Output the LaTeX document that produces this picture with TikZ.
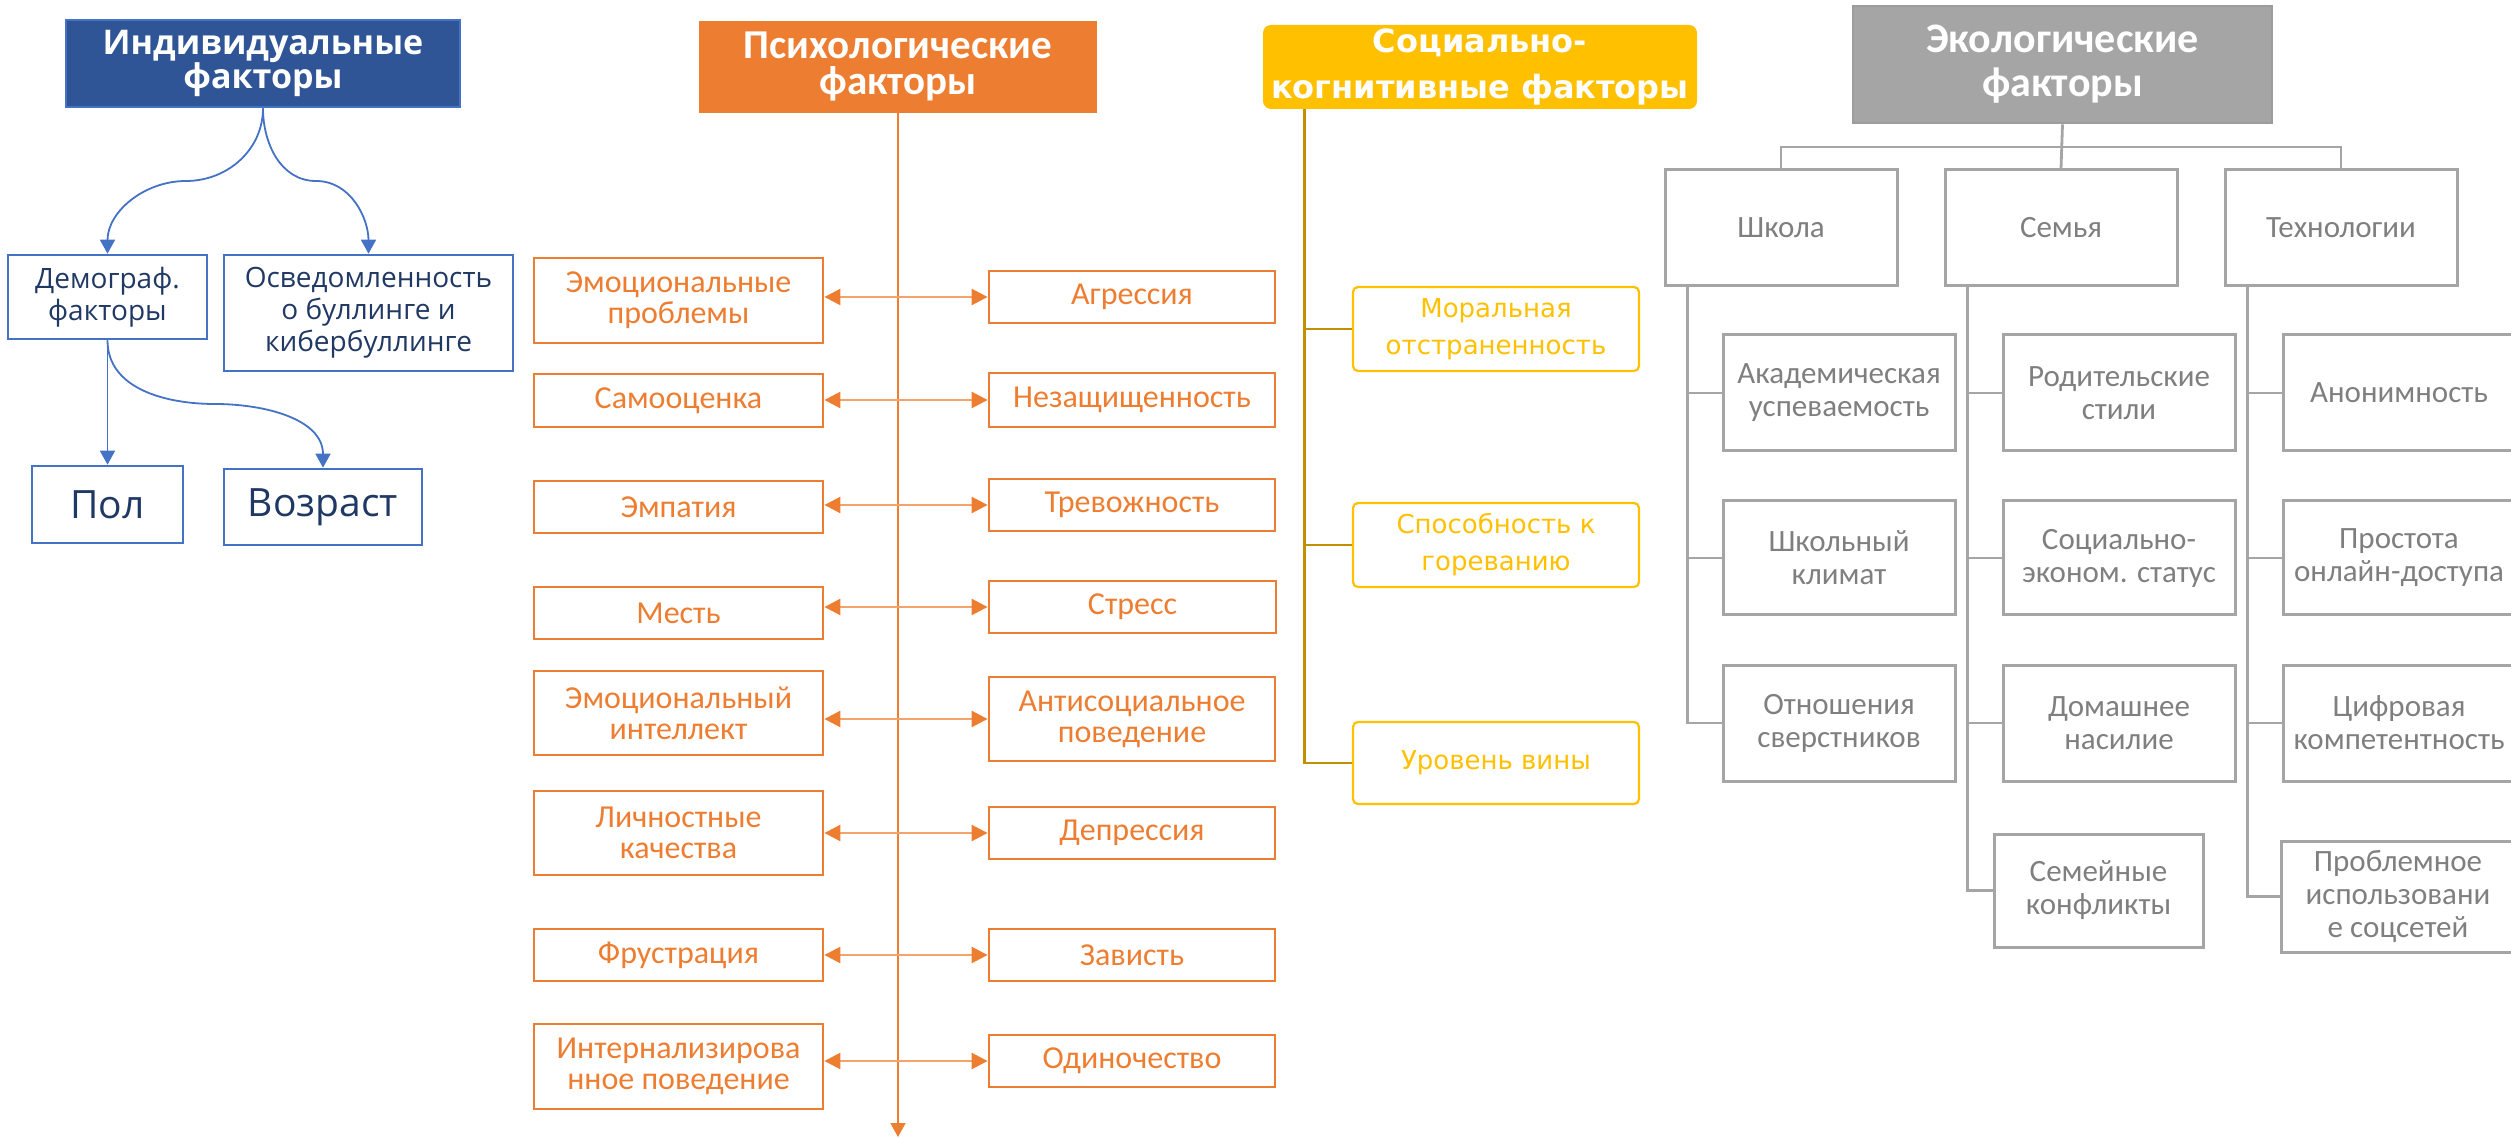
\documentclass[tikz,border=0pt]{standalone}
\usepackage{fontspec}
\newfontfamily\indf{Open Sans}
\newfontfamily\psyf{Carlito}
\newfontfamily\socf{DejaVu Sans}
\usetikzlibrary{arrows.meta}
\definecolor{indblue}{HTML}{2F5597}
\definecolor{indborder}{HTML}{4472C4}
\definecolor{indtext}{HTML}{203864}
\definecolor{psyor}{HTML}{ED7D31}
\definecolor{psylight}{HTML}{F4A46A}
\definecolor{socy}{HTML}{FFC000}
\definecolor{socdark}{HTML}{BF9000}
\definecolor{ecog}{HTML}{A5A5A5}
\definecolor{ecohd}{HTML}{9C9C9C}
\definecolor{ecotext}{HTML}{7F7F7F}
\newcommand{\bxnode}[7]{\node[#6, minimum width={(#4-#2)*0.5pt}, minimum height={(#5-#3)*0.5pt}] (#1) at ({(#2+#4)/2},{(#3+#5)/2}) {#7};}
\begin{document}
\begin{tikzpicture}[x=0.5pt,y=-0.5pt,
  every node/.style={inner sep=0pt, align=center},
  indhead/.style={fill=indblue, draw=indborder, line width=1.3pt, text=white, font=\indf\bfseries\fontsize{17}{17}\selectfont},
  indbox/.style={draw=indborder, line width=1.3pt, text=indtext, font=\indf\fontsize{14}{16}\selectfont},
  indbig/.style={indbox, font=\indf\fontsize{19.5}{21}\selectfont},
  indarrow/.style={draw=indborder, line width=0.9pt, -{Triangle[length=7pt,width=7.5pt]}},
  psyhead/.style={fill=psyor, draw=psyor, line width=1pt, text=white, font=\psyf\bfseries\fontsize{20.5}{18}\selectfont},
  psybox/.style={draw=psyor, line width=1.4pt, text=psyor, font=\psyf\fontsize{16}{15.5}\selectfont},
  psyarrow/.style={draw=psylight, line width=1.3pt, {Triangle[length=8pt,width=8pt,fill=psyor,color=psyor]}-{Triangle[length=8pt,width=8pt,fill=psyor,color=psyor]}},
  psyspine/.style={draw=psyor, line width=0.8pt, -{Triangle[length=7pt,width=7.5pt]}},
  sochead/.style={fill=socy, rounded corners=4pt, text=white, font=\socf\bfseries\fontsize{16}{23}\selectfont},
  socbox/.style={draw=socy, line width=1.1pt, rounded corners=2.5pt, text=socy, font=\socf\fontsize{13}{18.5}\selectfont},
  socline/.style={draw=socdark, line width=1.4pt},
  ecohead/.style={fill=ecog, draw=ecohd, line width=1.3pt, text=white, font=\psyf\bfseries\fontsize{21}{22}\selectfont},
  ecobox/.style={draw=ecog, line width=1.5pt, text=ecotext, font=\psyf\fontsize{15.5}{16.5}\selectfont},
  ecoline/.style={draw=ecog, line width=1.4pt}
]
\useasboundingbox (0,0) rectangle (2511,1138);

% ---------- Individual factors ----------
\bxnode{ind}{66}{20}{460}{107}{indhead}{Индивидуальные\\факторы}
\bxnode{dem}{8}{255}{207}{339}{indbox}{Демограф.\\факторы}
\bxnode{osv}{224}{255}{513}{371}{indbox}{Осведомленность\\о буллинге и\\кибербуллинге}
\bxnode{pol}{32}{466}{183}{543}{indbig}{Пол}
\bxnode{voz}{224}{469}{422}{545}{indbig}{Возраст}
\coordinate (m1) at (186,181);
\coordinate (m2) at (316,181);
\coordinate (m3) at (215,404);
\draw[indarrow] (ind.south) to[out=-90,in=0] (m1) to[out=180,in=90] (dem.north);
\draw[indarrow] (ind.south) to[out=-90,in=180] (m2) to[out=0,in=90] (osv.north);
\draw[indarrow] (dem.south) -- (pol.north);
\draw[indarrow] (dem.south) to[out=-90,in=180] (m3) to[out=0,in=90] (voz.north);

% ---------- Psychological factors ----------
\bxnode{psy}{700}{22}{1096}{112}{psyhead}{Психологические\\факторы}
\coordinate (psyend) at (898,1137);
\draw[psyspine] (psy.south) -- (psyend);

\bxnode{L1}{534}{258}{823}{343}{psybox}{Эмоциональные\\проблемы}
\bxnode{R1}{989}{271}{1275}{323}{psybox}{Агрессия}
\bxnode{L2}{534}{374}{823}{427}{psybox}{Самооценка}
\bxnode{R2}{989}{373}{1275}{427}{psybox}{Незащищенность}
\bxnode{L3}{534}{481}{823}{533}{psybox}{Эмпатия}
\bxnode{R3}{989}{479}{1275}{531}{psybox}{Тревожность}
\bxnode{L4}{534}{587}{823}{639}{psybox}{Месть}
\bxnode{R4}{989}{581}{1276}{633}{psybox}{Стресс}
\bxnode{L5}{534}{671}{823}{755}{psybox}{Эмоциональный\\интеллект}
\bxnode{R5}{989}{677}{1275}{761}{psybox}{Антисоциальное\\поведение}
\bxnode{L6}{534}{791}{823}{875}{psybox}{Личностные\\качества}
\bxnode{R6}{989}{807}{1275}{859}{psybox}{Депрессия}
\bxnode{L7}{534}{929}{823}{981}{psybox}{Фрустрация}
\bxnode{R7}{989}{929}{1275}{981}{psybox}{Зависть}
\bxnode{L8}{534}{1024}{823}{1109}{psybox}{Интернализирова\\нное поведение}
\bxnode{R8}{989}{1035}{1275}{1087}{psybox}{Одиночество}
\foreach \i in {1,...,8}{
  \draw[psyarrow] (L\i.east |- R\i.west) -- (R\i.west);
}

% ---------- Socio-cognitive factors ----------
\bxnode{soc}{1263}{25}{1697}{109}{sochead}{Социально-\\когнитивные факторы}
\bxnode{S1}{1353}{287}{1639}{371}{socbox}{Моральная\\отстраненность}
\bxnode{S2}{1353}{503}{1639}{587}{socbox}{Способность к\\гореванию}
\bxnode{S3}{1353}{722}{1639}{804}{socbox}{Уровень вины}
\coordinate (socsp) at ([xshift=21pt]soc.south west);
\draw[socline] (socsp) |- (S3.west);
\draw[socline] (socsp |- S1.west) -- (S1.west);
\draw[socline] (socsp |- S2.west) -- (S2.west);

% ---------- Ecological factors ----------
\bxnode{eco}{1853}{6}{2272}{123}{ecohead}{Экологические\\факторы}
\bxnode{sch}{1665}{170}{1897}{286}{ecobox}{Школа}
\bxnode{fam}{1945}{170}{2177}{286}{ecobox}{Семья}
\bxnode{tec}{2225}{170}{2457}{286}{ecobox}{Технологии}
\coordinate (ecobus) at (2061,147);
\draw[ecoline] (eco.south) -- (fam.north);
\draw[ecoline] (sch.north) |- (ecobus) -| (tec.north);

\bxnode{a1}{1723}{335}{1955}{451}{ecobox}{Академическая\\успеваемость}
\bxnode{a2}{1723}{501}{1955}{615}{ecobox}{Школьный\\климат}
\bxnode{a3}{1723}{665}{1955}{781}{ecobox}{Отношения\\сверстников}
\bxnode{b1}{2003}{335}{2235}{451}{ecobox}{Родительские\\стили}
\bxnode{b2}{2003}{501}{2235}{615}{ecobox}{Социально-\\эконом. статус}
\bxnode{b3}{2003}{665}{2235}{781}{ecobox}{Домашнее\\насилие}
\bxnode{b4}{1994}{834}{2203}{947}{ecobox}{Семейные\\конфликты}
\bxnode{c1}{2283}{335}{2515}{451}{ecobox}{Анонимность}
\bxnode{c2}{2283}{501}{2515}{615}{ecobox}{Простота\\онлайн-доступа}
\bxnode{c3}{2283}{665}{2515}{781}{ecobox}{Цифровая\\компетентность}
\bxnode{c4}{2281}{841}{2515}{952}{ecobox}{Проблемное\\использовани\\е соцсетей}

\coordinate (schsp) at ([xshift=12pt]sch.south west);
\coordinate (famsp) at ([xshift=12pt]fam.south west);
\coordinate (tecsp) at ([xshift=12pt]tec.south west);
\draw[ecoline] (schsp) |- (a3.west);
\draw[ecoline] (schsp |- a1.west) -- (a1.west);
\draw[ecoline] (schsp |- a2.west) -- (a2.west);
\draw[ecoline] (famsp) |- (b4.west);
\draw[ecoline] (famsp |- b1.west) -- (b1.west);
\draw[ecoline] (famsp |- b2.west) -- (b2.west);
\draw[ecoline] (famsp |- b3.west) -- (b3.west);
\draw[ecoline] (tecsp) |- (c4.west);
\draw[ecoline] (tecsp |- c1.west) -- (c1.west);
\draw[ecoline] (tecsp |- c2.west) -- (c2.west);
\draw[ecoline] (tecsp |- c3.west) -- (c3.west);
\end{tikzpicture}
\end{document}
